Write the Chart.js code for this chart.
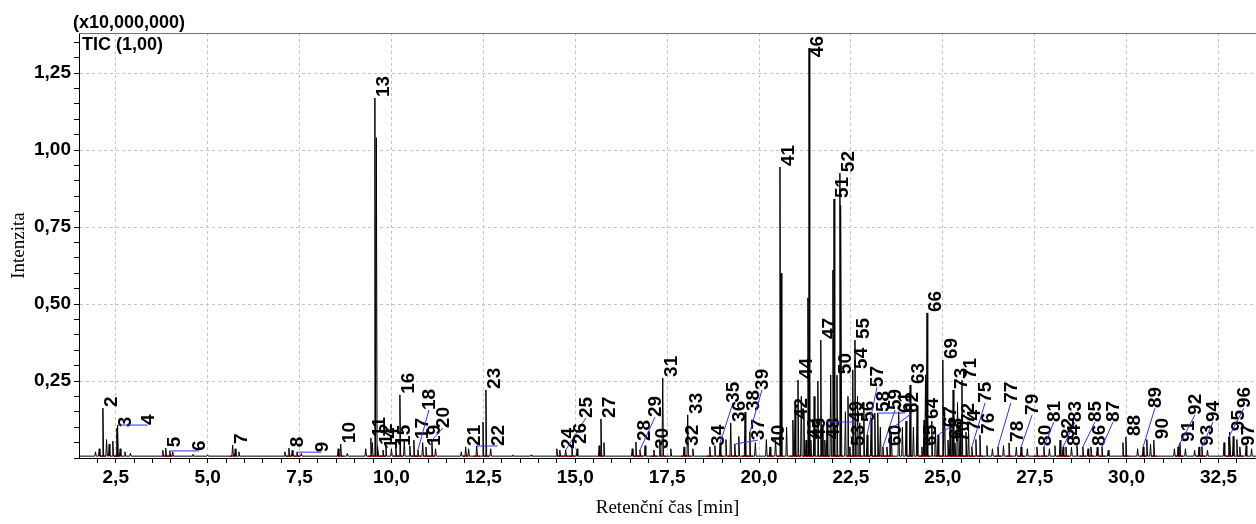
<!DOCTYPE html>
<html>
<head>
<meta charset="utf-8">
<script src="https://cdn.jsdelivr.net/npm/chart.js@4.4.1/dist/chart.umd.min.js"></script>
<style>
  html, body { margin: 0; padding: 0; background: #fff; }
  #wrap { width: 1256px; height: 524px; position: relative; }
</style>
</head>
<body>
<div id="wrap"><canvas id="ticChart"></canvas></div>
<script>
// labelled peaks: number, retention time [min], apex height [x10,000,000]
const peakNo = [2, 3, 4, 5, 6, 7, 8, 9, 10, 11, 12, 13, 14, 15, 16, 17, 18, 19, 20,
  21, 22, 23, 24, 25, 26, 27, 28, 29, 30, 31, 32, 33, 34, 35, 36, 37, 38, 39, 40,
  41, 42, 43, 44, 45, 46, 47, 48, 49, 50, 51, 52, 53, 54, 55, 56, 57, 58, 59, 60,
  61, 62, 63, 64, 65, 66, 67, 68, 69, 70, 71, 72, 73, 74, 75, 76, 77, 78, 79, 80,
  81, 82, 83, 84, 85, 86, 87, 88, 89, 90, 91, 92, 93, 94, 95, 96, 97];
const peakTime = [2.15, 2.53, 2.55, 3.86, 3.97, 5.68, 7.21, 7.43, 8.62, 9.44, 9.63, 9.55, 9.77, 10.12, 10.23, 10.61, 10.72, 10.94, 11.10,
  12.02, 12.32, 12.57, 14.58, 14.74, 14.91, 15.70, 16.65, 16.76, 17.14, 17.38, 17.96, 18.06, 18.66, 18.94, 19.23, 19.34, 19.62, 19.75, 20.30,
  20.57, 20.92, 21.28, 21.06, 21.41, 21.36, 21.68, 21.79, 21.85, 22.12, 22.04, 22.20, 22.47, 22.55, 22.61, 22.74, 22.94, 23.15, 23.37, 23.48,
  23.23, 23.56, 24.11, 24.49, 24.43, 24.57, 24.87, 25.14, 25.00, 25.33, 25.52, 25.47, 25.28, 25.63, 25.79, 26.01, 26.50, 26.80, 27.13, 27.56,
  27.75, 28.19, 28.27, 28.35, 28.81, 29.03, 29.33, 29.98, 30.45, 30.74, 31.45, 31.40, 31.97, 32.05, 32.81, 32.78, 33.08];
const peakHeight = [0.162, 0.097, 0.107, 0.032, 0.023, 0.042, 0.032, 0.019, 0.045, 0.065, 0.040, 1.169, 0.026, 0.036, 0.205, 0.058, 0.026, 0.036, 0.058,
  0.036, 0.039, 0.221, 0.026, 0.026, 0.042, 0.127, 0.052, 0.026, 0.026, 0.260, 0.036, 0.140, 0.036, 0.049, 0.114, 0.045, 0.149, 0.084, 0.036,
  0.945, 0.123, 0.058, 0.253, 0.058, 1.331, 0.383, 0.058, 0.117, 0.269, 0.841, 0.925, 0.036, 0.286, 0.383, 0.114, 0.075, 0.146, 0.036, 0.036,
  0.146, 0.091, 0.237, 0.123, 0.036, 0.471, 0.075, 0.058, 0.318, 0.049, 0.253, 0.107, 0.221, 0.084, 0.036, 0.075, 0.036, 0.049, 0.036, 0.036,
  0.036, 0.058, 0.036, 0.036, 0.036, 0.036, 0.036, 0.068, 0.036, 0.058, 0.049, 0.036, 0.036, 0.036, 0.084, 0.068, 0.036];

// labels the software pushed aside (blue leader back to the apex)
const movedNo = [4, 6, 9, 18, 20, 22, 25, 29, 35, 37, 39, 49, 57, 59, 61, 62, 67, 75, 77, 79, 81, 83, 85, 87, 89, 92, 94, 96];
const movedTime = [3.37, 4.76, 8.10, 11.02, 11.40, 12.89, 15.29, 17.17, 19.29, 19.97, 20.08, 22.64, 23.21, 23.70, 23.97, 24.16, 25.19, 26.15, 26.85, 27.43, 28.02, 28.60, 29.14, 29.63, 30.77, 31.86, 32.35, 33.19];
const movedHeight = [0.107, 0.023, 0.019, 0.156, 0.097, 0.039, 0.130, 0.133, 0.179, 0.058, 0.221, 0.117, 0.230, 0.156, 0.146, 0.146, 0.100, 0.179, 0.179, 0.140, 0.117, 0.117, 0.117, 0.117, 0.162, 0.140, 0.117, 0.162];

// unlabelled peaks and baseline noise
const minorTime = [1.95, 2.05, 2.25, 2.32, 2.42, 2.62, 2.75, 2.90, 3.78, 4.05, 4.60, 5.00, 5.75, 5.85, 7.10, 7.30, 7.55, 8.55, 8.80,
  9.30, 9.48, 9.59, 9.85, 10.00, 10.35, 10.50, 10.85, 11.20, 11.90, 12.10, 12.49, 12.70, 13.30, 13.80, 14.50, 15.05, 15.65, 15.78,
  16.55, 16.90, 17.30, 17.60, 18.20, 18.80, 19.10, 19.45, 19.90, 20.20, 20.45, 20.60, 20.75, 20.98, 21.15, 21.22, 21.33, 21.50,
  21.60, 21.72, 21.95, 22.01, 22.23, 22.35, 22.42, 22.68, 22.85, 23.05, 23.30, 23.60, 23.80, 23.90, 24.00, 24.20, 24.30, 24.53,
  24.70, 24.80, 25.05, 25.20, 25.40, 25.70, 25.90, 26.20, 26.35, 26.65, 27.00, 27.30, 27.90, 28.05, 28.50, 28.65, 28.95, 29.20,
  29.50, 29.90, 30.30, 30.55, 30.65, 31.30, 31.60, 31.85, 32.20, 32.65, 32.90, 33.00, 33.25, 33.40];
const minorHeight = [0.020, 0.030, 0.060, 0.045, 0.055, 0.030, 0.020, 0.015, 0.025, 0.020, 0.012, 0.010, 0.030, 0.020, 0.020, 0.025, 0.015, 0.030, 0.015,
  0.030, 0.050, 1.040, 0.040, 0.030, 0.060, 0.040, 0.050, 0.030, 0.020, 0.030, 0.117, 0.030, 0.010, 0.010, 0.030, 0.030, 0.040, 0.050,
  0.030, 0.040, 0.060, 0.030, 0.030, 0.040, 0.060, 0.070, 0.050, 0.060, 0.060, 0.600, 0.100, 0.170, 0.200, 0.150, 0.520, 0.200,
  0.250, 0.100, 0.270, 0.610, 0.820, 0.150, 0.200, 0.200, 0.180, 0.120, 0.100, 0.080, 0.150, 0.100, 0.120, 0.100, 0.170, 0.270,
  0.120, 0.100, 0.150, 0.130, 0.180, 0.090, 0.060, 0.040, 0.030, 0.040, 0.035, 0.030, 0.030, 0.040, 0.035, 0.040, 0.030, 0.035,
  0.025, 0.050, 0.030, 0.060, 0.045, 0.030, 0.030, 0.025, 0.025, 0.050, 0.070, 0.060, 0.040, 0.030];

const xMajor = [2.5, 5.0, 7.5, 10.0, 12.5, 15.0, 17.5, 20.0, 22.5, 25.0, 27.5, 30.0, 32.5];
const yMajor = [0.25, 0.50, 0.75, 1.00, 1.25];

const X_MIN = 1.5, X_MAX = 33.52, Y_MAX = 1.38;
const FOOT = 0.006;     // baseline level at the foot of each spike
const HALF = 0.02;      // half width of a spike [min]

// build the trace: each peak is a narrow spike from the baseline
let allPeaks = [];
peakTime.forEach((t, i) => allPeaks.push([t, peakHeight[i]]));
minorTime.forEach((t, i) => allPeaks.push([t, minorHeight[i]]));
allPeaks.sort((a, b) => a[0] - b[0]);
let trace = [{x: X_MIN, y: FOOT}];
allPeaks.forEach(p => {
  trace.push({x: p[0] - HALF, y: FOOT});
  trace.push({x: p[0], y: p[1]});
  trace.push({x: p[0] + HALF, y: FOOT});
});
trace.push({x: X_MAX, y: FOOT});

// red integration marks on the baseline, one under each labelled peak
const marks = peakTime.map(t => ({x: t, y: FOOT}));

function isMajor(v, list) {
  return list.some(m => Math.abs(m - v) < 1e-6);
}
function comma(v, d) {
  return v.toFixed(d).replace('.', ',');
}

// peak numbers, leaders, header text
const peakLabels = {
  id: 'peakLabels',
  afterDatasetsDraw(chart) {
    const ctx = chart.ctx, xs = chart.scales.x, ys = chart.scales.y;
    const area = chart.chartArea;
    ctx.save();
    ctx.beginPath();
    ctx.rect(area.left, 0, area.right - area.left, area.bottom);
    ctx.clip();
    ctx.font = 'bold 19px "Liberation Sans", Arial, sans-serif';
    ctx.fillStyle = '#000';
    peakNo.forEach((no, i) => {
      const px = xs.getPixelForValue(peakTime[i]);
      const py = ys.getPixelForValue(peakHeight[i]);
      let lx = px + 8, ly = py - 1;
      const m = movedNo.indexOf(no);
      if (m >= 0) {
        lx = xs.getPixelForValue(movedTime[m]);
        ly = ys.getPixelForValue(movedHeight[m]);
        ctx.strokeStyle = '#3030ff';
        ctx.lineWidth = 1;
        ctx.beginPath();
        ctx.moveTo(px, py);
        ctx.lineTo(lx, ly);
        ctx.stroke();
      }
      const txt = String(no);
      const w = ctx.measureText(txt).width;
      if (ly - w < area.top + 3) ly = area.top + 3 + w;
      ctx.save();
      ctx.translate(lx, ly);
      ctx.rotate(-Math.PI / 2);
      ctx.textAlign = 'left';
      ctx.textBaseline = 'middle';
      ctx.fillText(txt, 0, 1);
      ctx.restore();
    });
    ctx.restore();

    // frame top line and header
    ctx.save();
    ctx.strokeStyle = '#707070';
    ctx.lineWidth = 1;
    ctx.beginPath();
    ctx.moveTo(area.left, area.top + 0.5);
    ctx.lineTo(area.right, area.top + 0.5);
    ctx.stroke();
    ctx.fillStyle = '#000';
    ctx.font = 'bold 18px "Liberation Sans", Arial, sans-serif';
    ctx.textBaseline = 'alphabetic';
    ctx.fillText('(x10,000,000)', 73, 28);
    ctx.fillText('TIC (1,00)', 82, 50);
    ctx.restore();
  }
};

const tickFont = {family: '"Liberation Sans", Arial, sans-serif', size: 19, weight: 'bold'};
const titleFont = {family: '"Liberation Serif", "Times New Roman", serif', size: 19};

new Chart(document.getElementById('ticChart'), {
  type: 'line',
  data: {
    datasets: [{
      data: trace,
      borderColor: '#000',
      borderWidth: 1,
      pointRadius: 0,
      tension: 0,
      fill: false
    }, {
      data: marks,
      showLine: false,
      pointStyle: 'line',
      pointRadius: 3,
      pointBorderColor: '#ff2020',
      pointBorderWidth: 1.5
    }]
  },
  options: {
    responsive: true,
    maintainAspectRatio: false,
    animation: false,
    layout: {autoPadding: false, padding: {top: 33, right: 0, left: 0, bottom: 0}},
    plugins: {legend: {display: false}, tooltip: {enabled: false}},
    scales: {
      x: {
        type: 'linear',
        min: X_MIN,
        max: X_MAX,
        afterBuildTicks: s => {
          let t = [];
          for (let k = 4; k <= 66; k++) t.push({value: k * 0.5});
          s.ticks = t;
        },
        afterFit: s => { s.height = 66; },
        ticks: {
          autoSkip: false,
          maxRotation: 0,
          color: '#000',
          font: tickFont,
          padding: 3,
          callback: v => isMajor(v, xMajor) ? comma(v, 1) : ''
        },
        grid: {
          color: c => (c.tick && isMajor(c.tick.value, xMajor)) ? '#c4c4c4' : 'rgba(0,0,0,0)',
          tickColor: '#000',
          tickLength: 5,
          tickBorderDash: []
        },
        border: {color: '#000', width: 1, dash: [3, 3]},
        title: {display: true, text: 'Retenční čas [min]', color: '#000', font: titleFont, padding: {top: 4, bottom: 5}}
      },
      y: {
        type: 'linear',
        min: 0,
        max: Y_MAX,
        afterBuildTicks: s => {
          let t = [];
          for (let k = 0; k <= 27; k++) t.push({value: k * 0.05});
          s.ticks = t;
        },
        afterFit: s => { s.width = 79; },
        ticks: {
          autoSkip: false,
          color: '#000',
          font: tickFont,
          padding: 3,
          callback: v => isMajor(v, yMajor) ? comma(v, 2) : ''
        },
        grid: {
          color: c => (c.tick && isMajor(c.tick.value, yMajor)) ? '#c4c4c4' : 'rgba(0,0,0,0)',
          tickColor: '#000',
          tickLength: 5,
          tickBorderDash: []
        },
        border: {color: '#000', width: 1, dash: [3, 3]},
        title: {display: true, text: 'Intenzita', color: '#000', font: titleFont, padding: {top: 8, bottom: 4}}
      }
    }
  },
  plugins: [peakLabels]
});
</script>
</body>
</html>
